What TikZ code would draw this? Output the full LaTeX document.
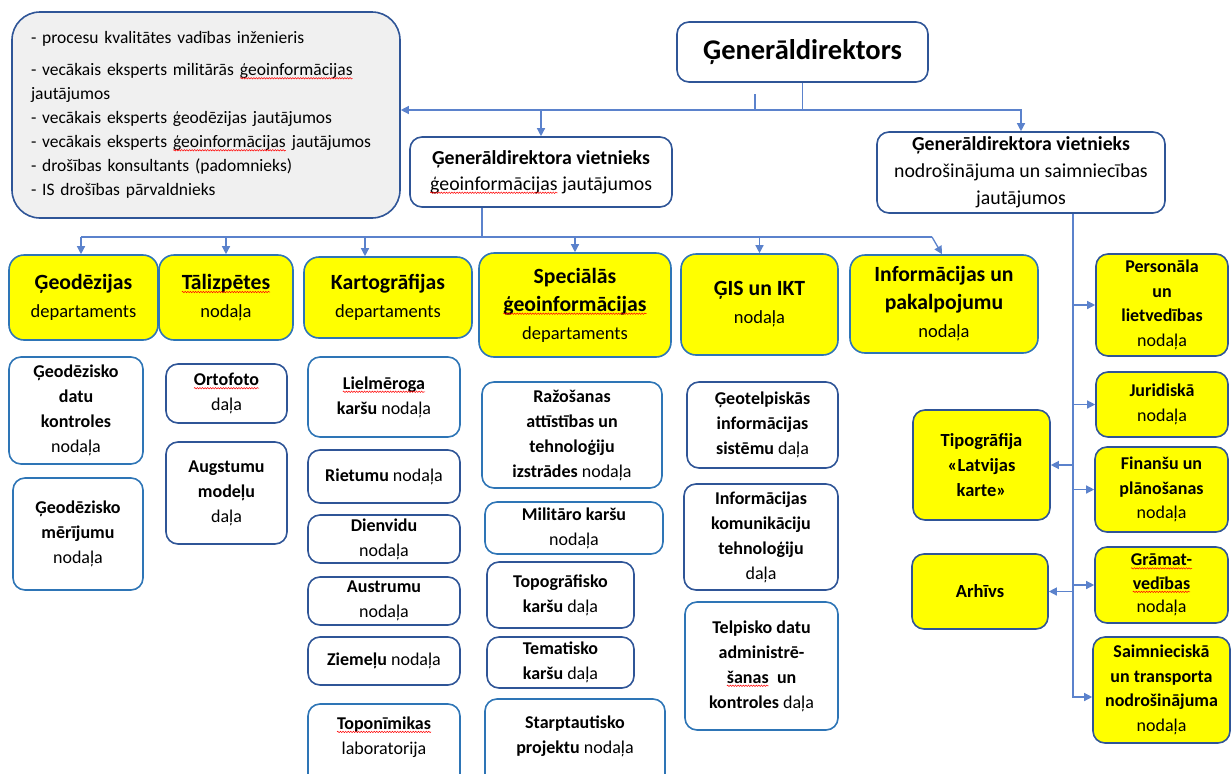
\documentclass[tikz,border=0pt]{standalone}
\usepackage{fontspec}
\setmainfont{Carlito}
\usetikzlibrary{arrows.meta,decorations.pathmorphing}

\definecolor{bdark}{RGB}{47,85,151}
\definecolor{bblue}{RGB}{46,117,182}
\definecolor{connblue}{RGB}{91,130,204}
\definecolor{notegray}{RGB}{240,240,240}
\definecolor{yel}{RGB}{255,255,0}

\newcommand{\hd}[1]{{\fontsize{21.7}{28}\selectfont\bfseries #1}}

\tikzset{
  box/.style={draw=bdark, line width=1.6pt, rounded corners=12pt, fill=white, align=center,
    inner sep=0pt, font=\fontsize{18}{25}\selectfont},
  bluebox/.style={box, draw=bblue},
  dept/.style={box, draw=bblue, fill=yel, rounded corners=15pt, font=\fontsize{18.5}{28}\selectfont},
  unit/.style={box, fill=yel, font=\fontsize{18}{24.5}\selectfont},
  conline/.style={draw=connblue, line width=1.3pt},
  arr/.style={conline, -{Triangle[length=8pt,width=8pt]}},
  sqword/.style={shape=rectangle, inner sep=0pt, outer sep=0pt, minimum width=0pt, minimum height=0pt,
    text width={}, align=none, font={}, draw=none, fill=none, anchor=center},
}
% red wavy spell-check underline
\newcommand{\sq}[1]{\tikz[baseline=(sqw.base)]{\node[sqword] (sqw) {#1};
  \draw[red, line width=0.5pt, sharp corners, decorate, decoration={snake, amplitude=0.7pt, segment length=2.6pt}]
    ([yshift=-2.6pt]sqw.base west) -- ([yshift=-2.6pt]sqw.base east);}}

\begin{document}
\begin{tikzpicture}[x=1pt,y=-1pt]
\useasboundingbox (0,0) rectangle (1232,774);
\clip (0,0) rectangle (1232,774);

% top level
\node[box, fill=notegray, rounded corners=28pt, minimum width=388pt, minimum height=206pt,
  align=left, text width=350pt, font=\fontsize{17.5}{24}\selectfont] (notes) at (206,115)
  {- procesu kvalitātes vadības inženieris\\[8pt]
   - vecākais eksperts militārās \sq{ģeoinformācijas}\\ jautājumos\\
   - vecākais eksperts ģeodēzijas jautājumos\\
   - vecākais eksperts \sq{ģeoinformācijas} jautājumos\\
   - drošības konsultants (padomnieks)\\
   - IS drošības pārvaldnieks};
\node[box, minimum width=251pt, minimum height=60pt, font=\fontsize{28.5}{34}\selectfont\bfseries]
  (gd) at (802.5,52) {Ģenerāldirektors};
\node[box, minimum width=262pt, minimum height=70pt, font=\fontsize{19.8}{26}\selectfont]
  (dep1) at (541,172) {\textbf{Ģenerāldirektora vietnieks}\\ \sq{ģeoinformācijas} jautājumos};
\node[box, minimum width=288pt, minimum height=81pt, font=\fontsize{19.8}{27}\selectfont]
  (dep2) at (1021,172.5) {\textbf{Ģenerāldirektora vietnieks}\\ nodrošinājuma un saimniecības\\ jautājumos};

% departments
\node[dept, minimum width=149pt, minimum height=85pt] (geod) at (83.5,297.5) {\hd{Ģeodēzijas}\\ departaments};
\node[dept, minimum width=134pt, minimum height=85pt] (taliz) at (226,297.5) {\hd{\sq{Tālizpētes}}\\ nodaļa};
\node[dept, minimum width=168pt, minimum height=81pt] (karto) at (388,297.5) {\hd{Kartogrāfijas}\\ departaments};
\node[dept, minimum width=192pt, minimum height=104pt] (spec) at (575,305) {\hd{Speciālās}\\ \hd{\sq{ģeoinformācijas}}\\ departaments};
\node[dept, minimum width=157pt, minimum height=101pt] (gis) at (759.5,304.5) {\hd{ĢIS un IKT}\\ nodaļa};
\node[dept, minimum width=188pt, minimum height=98pt] (info) at (944,304) {\hd{Informācijas un}\\ \hd{pakalpojumu}\\ nodaļa};

% units
\node[bluebox, minimum width=134pt, minimum height=107pt] (gdk) at (76,410.5) {\textbf{Ģeodēzisko}\\ \textbf{datu}\\ \textbf{kontroles}\\ nodaļa};
\node[bluebox, minimum width=130pt, minimum height=112pt] (gdm) at (78,534) {\textbf{Ģeodēzisko}\\ \textbf{mērījumu}\\ nodaļa};
\node[box, minimum width=121pt, minimum height=59pt] (orto) at (226.5,393.5) {\textbf{\sq{Ortofoto}}\\ daļa};
\node[box, minimum width=121pt, minimum height=102pt] (augst) at (226.5,493) {\textbf{Augstumu}\\ \textbf{modeļu}\\ daļa};

\node[bluebox, minimum width=152pt, minimum height=80pt] (liel) at (384,397) {\textbf{\sq{Lielmēroga}}\\ \textbf{karšu} nodaļa};
\node[box, minimum width=152pt, minimum height=53pt] (riet) at (384,476.5) {\textbf{Rietumu} nodaļa};
\node[box, minimum width=152pt, minimum height=48pt] (dienv) at (384,539) {\textbf{Dienvidu}\\ nodaļa};
\node[box, minimum width=152pt, minimum height=48pt] (austr) at (384,601) {\textbf{Austrumu}\\ nodaļa};
\node[box, minimum width=152pt, minimum height=48pt] (ziem) at (384,661) {\textbf{Ziemeļu} nodaļa};
\node[bluebox, minimum width=152pt, minimum height=88pt] (topon) at (384,748) {\textbf{\sq{Toponīmikas}}\\ laboratorija\\ \mbox{}};

\node[bluebox, minimum width=180pt, minimum height=106pt] (razos) at (572,435) {\textbf{Ražošanas}\\ \textbf{attīstības un}\\ \textbf{tehnoloģiju}\\ \textbf{izstrādes} nodaļa};
\node[bluebox, minimum width=178pt, minimum height=52pt] (milit) at (574,528) {\textbf{Militāro karšu}\\ nodaļa};
\node[box, minimum width=147pt, minimum height=66pt] (topog) at (560.5,595) {\textbf{Topogrāfisko}\\ \textbf{karšu} daļa};
\node[box, minimum width=147pt, minimum height=51pt] (temat) at (560.5,662.5) {\textbf{Tematisko}\\ \textbf{karšu} daļa};
\node[bluebox, minimum width=180pt, minimum height=96pt] (starpt) at (575,747) {\textbf{Starptautisko}\\ \textbf{projektu} nodaļa\\ \mbox{}};

\node[box, minimum width=151pt, minimum height=86pt] (geotel) at (762.5,425) {\textbf{Ģeotelpiskās}\\ \textbf{informācijas}\\ \textbf{sistēmu} daļa};
\node[box, minimum width=154pt, minimum height=106pt] (ikt) at (761,537) {\textbf{Informācijas}\\ \textbf{komunikāciju}\\ \textbf{tehnoloģiju}\\ daļa};
\node[bluebox, minimum width=153pt, minimum height=128pt] (telp) at (761.5,666) {\textbf{Telpisko datu}\\ \textbf{administrē-}\\ \textbf{\sq{šanas}~ un}\\ \textbf{kontroles} daļa};

\node[unit, minimum width=132pt, minimum height=102pt] (pers) at (1162,305) {\textbf{Personāla}\\ \textbf{un}\\ \textbf{lietvedības}\\ nodaļa};
\node[unit, minimum width=132pt, minimum height=65pt] (jur) at (1162,404.5) {\textbf{Juridiskā}\\ nodaļa};
\node[unit, minimum width=133pt, minimum height=85pt] (fin) at (1161.5,489.5) {\textbf{Finanšu un}\\ \textbf{plānošanas}\\ nodaļa};
\node[unit, minimum width=133pt, minimum height=76pt, font=\fontsize{18}{23.5}\selectfont] (gram) at (1161.5,585) {\textbf{\sq{Grāmat-}}\\ \textbf{\sq{vedības}}\\ nodaļa};
\node[unit, minimum width=137pt, minimum height=106pt] (saimn) at (1161.5,690) {\textbf{Saimnieciskā}\\ \textbf{un transporta}\\ \textbf{nodrošinājuma}\\ nodaļa};
\node[unit, minimum width=137pt, minimum height=110pt, font=\fontsize{18.5}{25}\selectfont\bfseries] (tipo) at (981.5,465) {Tipogrāfija\\ «Latvijas\\ karte»};
\node[unit, minimum width=136pt, minimum height=75pt, font=\fontsize{18.5}{25}\selectfont\bfseries] (arh) at (980,591.5) {Arhīvs};

% connectors
\coordinate (j) at (802.5,110);
\coordinate (stub) at (755,94);
\draw[conline] (gd.south) -- (j);
\draw[arr] (j) -| (dep2.north);
\draw[arr] (j) -- (j -| notes.east);
\draw[arr] (j -| dep1.north) -- (dep1.north);
\draw[conline] (stub) -- (stub |- j);

\coordinate (bus) at (482,237);
\coordinate (busL) at (81,237);
\coordinate (busR) at (932,237);
\draw[conline] ([xshift=-59pt]dep1.south) -- (bus);
\draw[conline] (busL) -- (busR);
\draw[arr] (busL) -- (busL |- geod.north);
\draw[arr] (bus -| taliz.north) -- (taliz.north);
\draw[arr] ([xshift=-23pt]karto.north |- bus) -- ([xshift=-23pt]karto.north);
\draw[arr] (bus -| spec.north) -- (spec.north);
\draw[arr] (bus -| gis.north) -- (gis.north);
\draw[arr] (busR) -- ([xshift=-2pt]info.north);

\coordinate (sp) at (1073,698);
\draw[conline] (dep2.south -| sp) -- (sp);
\draw[arr] (sp |- pers.west) -- (pers.west);
\draw[arr] (sp |- jur.west) -- (jur.west);
\draw[arr] (sp |- fin.west) -- (fin.west);
\draw[arr] (sp |- gram.west) -- (gram.west);
\draw[arr] ([yshift=-7pt]sp |- saimn.west) -- ([yshift=-7pt]saimn.west);
\draw[arr] (sp |- tipo.east) -- (tipo.east);
\draw[arr] (sp |- arh.east) -- (arh.east);
\end{tikzpicture}
\end{document}
